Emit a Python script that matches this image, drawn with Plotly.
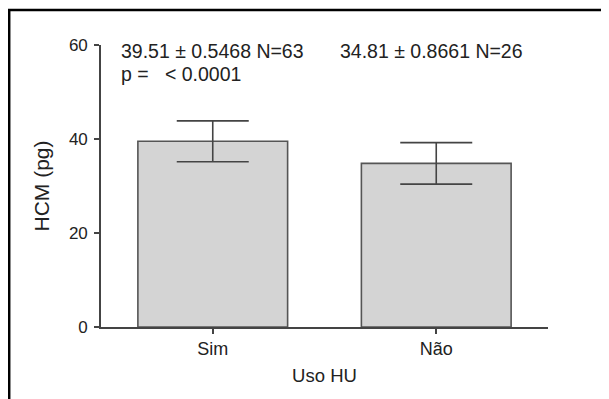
import plotly.graph_objects as go

categories = ["Sim", "Não"]
means = [39.51, 34.81]
sds = [4.34, 4.42]
sems = [0.5468, 0.8661]
ns = [63, 26]
p_text = "p =   < 0.0001"
y_ticks = [0, 20, 40, 60]

# page has an 8px body margin; figure is sized so it fills the window
OFF = 8
W, H = 609 - OFF, 399 - OFF
ML, MR, MT, MB = 101 - OFF, 61, 45 - OFF, 72
pw = W - ML - MR
ph = H - MT - MB

FAM = "Liberation Sans, Arial, sans-serif"
TXT = "#222"
font = dict(family=FAM, size=18, color=TXT)
ann_font = dict(family=FAM, size=19.5, color=TXT)

fig = go.Figure()
fig.add_trace(go.Bar(
    x=[0, 1], y=means, width=0.67,
    marker=dict(color="#d4d4d4", line=dict(color="#555555", width=1.6)),
    error_y=dict(type="data", array=sds, visible=True, color="#444444",
                 thickness=1.6, width=36),
))

annotations = []
for i, (m, s, n) in enumerate(zip(means, sems, ns)):
    annotations.append(dict(
        x=[-0.42, 0.56][i], y=58.7, xref="x", yref="y",
        text=f"{m:.2f} ± {s:.4f} N={n}", showarrow=False,
        xanchor="left", yanchor="middle", font=ann_font))
annotations.append(dict(x=-0.42, y=53.9, xref="x", yref="y", text=p_text,
                        showarrow=False, xanchor="left", yanchor="middle",
                        font=ann_font))

# outer frame (left and top lines), positioned in page pixels
px = lambda v: (v - OFF - ML) / pw
py = lambda v: (H - MB - (v - OFF)) / ph
shapes = [
    dict(type="line", xref="paper", yref="paper", x0=px(9.2), x1=px(9.2),
         y0=py(10), y1=py(410), line=dict(color="black", width=2.5)),
    dict(type="line", xref="paper", yref="paper", x0=px(8), x1=px(620),
         y0=py(10), y1=py(10), line=dict(color="black", width=2.5)),
]

fig.update_layout(
    width=W, height=H,
    margin=dict(l=ML, r=MR, t=MT, b=MB),
    paper_bgcolor="white", plot_bgcolor="white",
    showlegend=False, font=font,
    annotations=annotations, shapes=shapes,
    xaxis=dict(range=[-0.5, 1.5], tickvals=[0, 1], ticktext=categories,
               showgrid=False, zeroline=False, showline=True, linecolor="#444",
               linewidth=1.6, ticks="outside", ticklen=5, tickcolor="#444",
               tickwidth=1.5, tickfont=dict(family=FAM, size=18, color=TXT),
               title=dict(text="Uso HU", font=dict(family=FAM, size=18.5, color=TXT),
                          standoff=11)),
    yaxis=dict(range=[0, 60], tickvals=y_ticks, showgrid=False, zeroline=False,
               showline=True, linecolor="#444", linewidth=1.6, ticks="outside",
               ticklen=5, tickcolor="#444", tickwidth=1.5,
               ticklabelstandoff=3,
               tickfont=dict(family=FAM, size=17, color=TXT),
               title=dict(text="HCM (pg)", font=dict(family=FAM, size=21, color=TXT),
                          standoff=14)),
)

fig.write_html("out.html")
